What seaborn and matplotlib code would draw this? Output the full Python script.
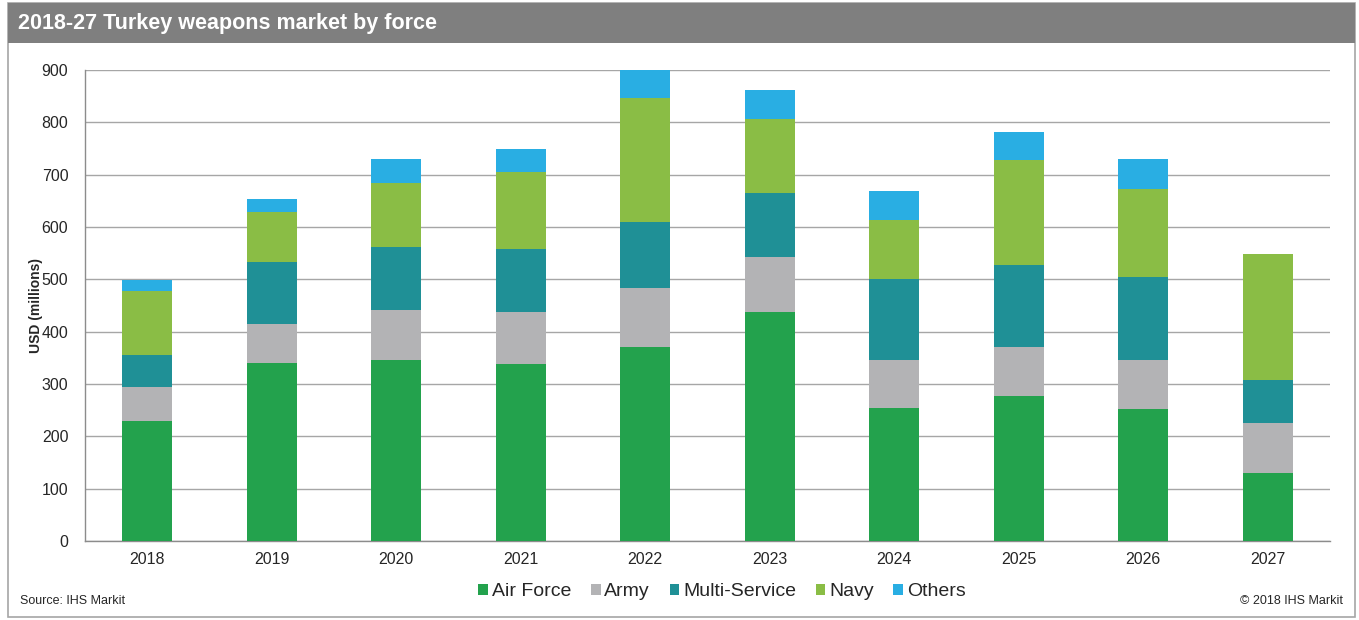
import matplotlib
matplotlib.use("Agg")
import matplotlib.pyplot as plt
from matplotlib.patches import Rectangle, Patch
import numpy as np
import seaborn as sns

years = ['2018', '2019', '2020', '2021', '2022', '2023', '2024', '2025', '2026', '2027']
air_force = [230, 340, 346, 338, 371, 438, 254, 277, 252, 130]
army = [65, 75, 95, 100, 112, 105, 92, 94, 94, 95]
multi_service = [60, 118, 121, 120, 127, 122, 155, 156, 158, 83]
navy = [123, 96, 122, 147, 237, 141, 112, 201, 169, 240]
others = [20, 24, 46, 44, 53, 56, 56, 54, 57, 0]

series = ['Air Force', 'Army', 'Multi-Service', 'Navy', 'Others']
colors = ['#23a24d', '#b3b3b5', '#1f9096', '#8abd45', '#29aee3']

sns.set_style("white")
plt.rcParams['font.family'] = ['Liberation Sans', 'DejaVu Sans']

W, H = 1359, 620
fig = plt.figure(figsize=(W / 100, H / 100), dpi=100)
ax = fig.add_axes([85 / W, 1 - 541 / H, (1330 - 85) / W, (541 - 70) / H])

# outer frame and title bar
fig.patches.append(Rectangle((8 / W, 1 - 617 / H), (1355 - 8) / W, (617 - 3) / H,
                             transform=fig.transFigure, fill=False,
                             edgecolor='#a6a6a6', linewidth=1.2))
fig.patches.append(Rectangle((8 / W, 1 - 43 / H), (1355 - 8) / W, 40 / H,
                             transform=fig.transFigure, facecolor='#7f7f7f',
                             edgecolor='none'))
fig.text(18 / W, 1 - 24 / H, '2018-27 Turkey weapons market by force', color='white',
         fontsize=15.5, fontweight='bold', va='center', ha='left')

bottom = np.zeros(len(years))
for name, vals, col in zip(series, [air_force, army, multi_service, navy, others], colors):
    sns.barplot(x=years, y=vals, bottom=bottom, color=col, width=0.4,
                linewidth=0, saturation=1, ax=ax, zorder=3)
    bottom = bottom + np.array(vals)

ax.set_xlim(-0.5, len(years) - 0.5)
ax.set_ylim(0, 900)
ax.set_yticks(np.arange(0, 901, 100))
ax.yaxis.grid(True, color='#a6a6a6', linewidth=1)
ax.set_axisbelow(True)
for s in ['top', 'right']:
    ax.spines[s].set_visible(False)
for s in ['left', 'bottom']:
    ax.spines[s].set_color('#8c8c8c')
    ax.spines[s].set_linewidth(1)
ax.set_xticks(np.arange(-0.5, len(years), 1), minor=True)
ax.tick_params(axis='x', which='major', length=0, labelsize=11.5, pad=8)
ax.tick_params(axis='x', which='minor', length=6, color='#8c8c8c', direction='out')
ax.tick_params(axis='y', length=6, color='#8c8c8c', direction='out', labelsize=11.5, pad=6)
ax.set_xlabel('')
ax.set_ylabel('USD (millions)', fontsize=10, fontweight='bold')
ax.yaxis.set_label_coords(-0.034, 0.5)

handles = [Patch(facecolor=c, edgecolor='none', label=n) for n, c in zip(series, colors)]
fig.legend(handles=handles, loc='center', bbox_to_anchor=(722 / W, 1 - 592 / H),
           ncol=5, frameon=False, fontsize=14, handlelength=0.5, handleheight=0.5,
           handletextpad=0.2, columnspacing=1.0)

fig.text(20 / W, 1 - 601 / H, 'Source: IHS Markit', fontsize=9, va='center', ha='left')
fig.text(1343 / W, 1 - 601 / H, '\u00a9 2018 IHS Markit', fontsize=9, va='center', ha='right')

fig.savefig('out.png', dpi=100)
